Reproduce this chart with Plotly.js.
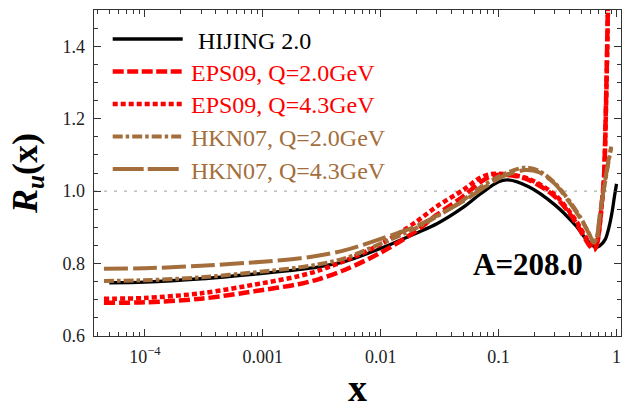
<!DOCTYPE html>
<html>
<head>
<meta charset="utf-8">
<script src="https://cdn.plot.ly/plotly-3.0.1.min.js"></script>
<style>html,body{margin:0;padding:0;background:#fff;}#chart{width:623px;height:409px;}</style>
</head>
<body>
<div id="chart"></div>
<script>
// ---- data ----
var seriesNames = ["HIJING 2.0", "EPS09, Q=2.0GeV", "EPS09, Q=4.3GeV", "HKN07, Q=2.0GeV", "HKN07, Q=4.3GeV"];

var xHIJING = [5e-5, 1e-4, 3e-4, 1e-3, 2e-3, 3e-3, 5e-3, 0.01, 0.02, 0.03, 0.05, 0.07, 0.1, 0.12, 0.18, 0.3, 0.45, 0.55, 0.62, 0.67, 0.72, 0.8, 0.87, 0.92, 0.96, 1.0];
var yHIJING = [0.747, 0.749, 0.758, 0.773, 0.783, 0.791, 0.806, 0.842, 0.884, 0.91, 0.955, 0.992, 1.026, 1.031, 1.012, 0.962, 0.905, 0.868, 0.851, 0.845, 0.849, 0.866, 0.905, 0.945, 0.985, 1.02];

var xEPS = [4.5e-5, 1e-4, 3e-4, 1e-3, 2e-3, 3e-3, 5e-3, 0.01, 0.02, 0.03, 0.05, 0.07, 0.085, 0.1, 0.13, 0.18, 0.3, 0.45, 0.5, 0.55, 0.6, 0.643, 0.68, 0.718, 0.761, 0.781, 0.815, 0.844, 0.856];
var yEPS20 = [0.692, 0.693, 0.703, 0.727, 0.743, 0.757, 0.783, 0.83, 0.89, 0.935, 0.985, 1.025, 1.04, 1.045, 1.043, 1.031, 0.985, 0.915, 0.888, 0.865, 0.846, 0.837, 0.852, 0.902, 0.99, 1.03, 1.25, 1.5, 1.6];
var yEPS43 = [0.703, 0.705, 0.718, 0.746, 0.765, 0.781, 0.808, 0.853, 0.915, 0.958, 1.003, 1.037, 1.047, 1.048, 1.045, 1.034, 0.99, 0.92, 0.895, 0.872, 0.852, 0.842, 0.853, 0.9, 0.985, 1.025, 1.23, 1.48, 1.6];

var xHKN = [4.5e-5, 1e-4, 3e-4, 1e-3, 2e-3, 3e-3, 5e-3, 0.01, 0.02, 0.03, 0.05, 0.07, 0.1, 0.13, 0.17, 0.22, 0.3, 0.4, 0.5, 0.55, 0.6, 0.64, 0.68, 0.718, 0.76, 0.81, 0.86, 0.902];
var yHKN20 = [0.752, 0.754, 0.762, 0.778, 0.789, 0.798, 0.815, 0.855, 0.898, 0.93, 0.975, 1.01, 1.04, 1.056, 1.065, 1.056, 1.022, 0.972, 0.925, 0.9, 0.876, 0.858, 0.87, 0.925, 0.98, 1.035, 1.085, 1.12];
var yHKN43 = [0.786, 0.787, 0.794, 0.805, 0.814, 0.822, 0.837, 0.868, 0.903, 0.932, 0.972, 1.003, 1.035, 1.05, 1.058, 1.052, 1.02, 0.968, 0.922, 0.899, 0.875, 0.858, 0.872, 0.93, 0.985, 1.04, 1.09, 1.123];

var xTickVals = [1e-4, 1e-3, 1e-2, 1e-1, 1];
var xTickText = ["10<sup>\u22124</sup>", "0.001", "0.01", "0.1", "1"];
var annotationText = "A=208.0";
var refLineValue = 1.0;

// ---- styling ----
var RED = "#ff0000";
var BROWN = "#a36e3b";
var FONT = "Liberation Serif, Times New Roman, serif";
var styles = [
  {color: "#000000", width: 3.3, dash: "solid", legDash: "solid"},
  {color: RED, width: 4.5, dash: "11px,4px", legDash: "11px,3.5px"},
  {color: RED, width: 4.5, dash: "5px,3px", legDash: "5px,3px"},
  {color: BROWN, width: 4, dash: "10px,3px,3.5px,3px", legDash: "10px,3px,3.5px,3px"},
  {color: BROWN, width: 4, dash: "24px,5px", legDash: "31px,4px"}
];
var xs = [xHIJING, xEPS, xEPS, xHKN, xHKN];
var ys = [yHIJING, yEPS20, yEPS43, yHKN20, yHKN43];

var traces = [];
for (var i = 0; i < seriesNames.length; i++) {
  traces.push({
    type: "scatter", mode: "lines", name: seriesNames[i],
    x: xs[i], y: ys[i],
    line: {color: styles[i].color, width: styles[i].width, dash: styles[i].dash, shape: "spline", smoothing: 0.9},
    showlegend: false, hoverinfo: "skip"
  });
}

var minorX = [];
for (var d = -5; d <= 0; d++) {
  for (var m = 2; m <= 9; m++) minorX.push(m * Math.pow(10, d));
}

// plot area in px: left 94, right 621, top 10, bottom 336
var L = 94, R = 621, T = 10, B = 336;
function px2paperX(p) { return (p - L) / (R - L); }
function px2paperY(p) { return (B - p) / (B - T); }

var shapes = [{
  type: "line", xref: "paper", yref: "y", x0: 0, x1: 1, y0: refLineValue, y1: refLineValue,
  line: {color: "#9a9a9a", width: 1, dash: "3px,7px"}, layer: "below"
}];
var annotations = [];
var rows = [39, 71.5, 104, 136.5, 169];
var textX = [196, 189, 189, 189, 189];
for (var k = 0; k < seriesNames.length; k++) {
  shapes.push({
    type: "line", xref: "paper", yref: "paper",
    x0: px2paperX(112.7), x1: px2paperX(182.7), y0: px2paperY(rows[k]), y1: px2paperY(rows[k]),
    line: {color: styles[k].color, width: styles[k].width, dash: styles[k].legDash}
  });
  annotations.push({
    xref: "paper", yref: "paper", x: px2paperX(textX[k]), y: px2paperY(rows[k] + 1.5),
    xanchor: "left", yanchor: "middle", showarrow: false, text: seriesNames[k],
    font: {family: FONT, size: 24, color: styles[k].color}
  });
}
annotations.push({
  xref: "paper", yref: "paper", x: px2paperX(528), y: px2paperY(264),
  xanchor: "center", yanchor: "middle", showarrow: false,
  text: "<b>" + annotationText + "</b>", font: {family: FONT, size: 31, color: "#000"}
});

var axisCommon = {
  ticks: "inside", ticklen: 7, tickwidth: 1.1, tickcolor: "#333",
  showline: true, linecolor: "#333", linewidth: 1.3, mirror: "allticks",
  showgrid: false, zeroline: false,
  tickfont: {family: FONT, size: 18, color: "#222"}
};

var layout = {
  width: 623, height: 409,
  margin: {l: L, r: 623 - R, t: T, b: 409 - B},
  paper_bgcolor: "#fff", plot_bgcolor: "#fff",
  font: {family: FONT, color: "#000"},
  showlegend: false,
  xaxis: Object.assign({}, axisCommon, {
    type: "log", range: [-4.431, 0.038],
    tickmode: "array", tickvals: xTickVals, ticktext: xTickText,
    ticklabelstandoff: 4,
    minor: {tickmode: "array", tickvals: minorX, ticks: "inside", ticklen: 4, tickwidth: 1, tickcolor: "#333", showgrid: false},
    title: {text: "<b>x</b>", font: {family: FONT, size: 38, color: "#000"}, standoff: 23}
  }),
  yaxis: Object.assign({}, axisCommon, {
    range: [0.6, 1.5], tick0: 0.6, dtick: 0.2, tickformat: ".1f",
    ticklabelstandoff: 4,
    minor: {tick0: 0.6, dtick: 0.05, ticks: "inside", ticklen: 4, tickwidth: 1, tickcolor: "#333", showgrid: false},
    title: {text: "<b><i>R</i><sub><i>u</i></sub>(x)</b>", font: {family: FONT, size: 36, color: "#000"}, standoff: 14}
  }),
  shapes: shapes,
  annotations: annotations
};

Plotly.newPlot("chart", traces, layout, {displayModeBar: false, staticPlot: true});
</script>
</body>
</html>
